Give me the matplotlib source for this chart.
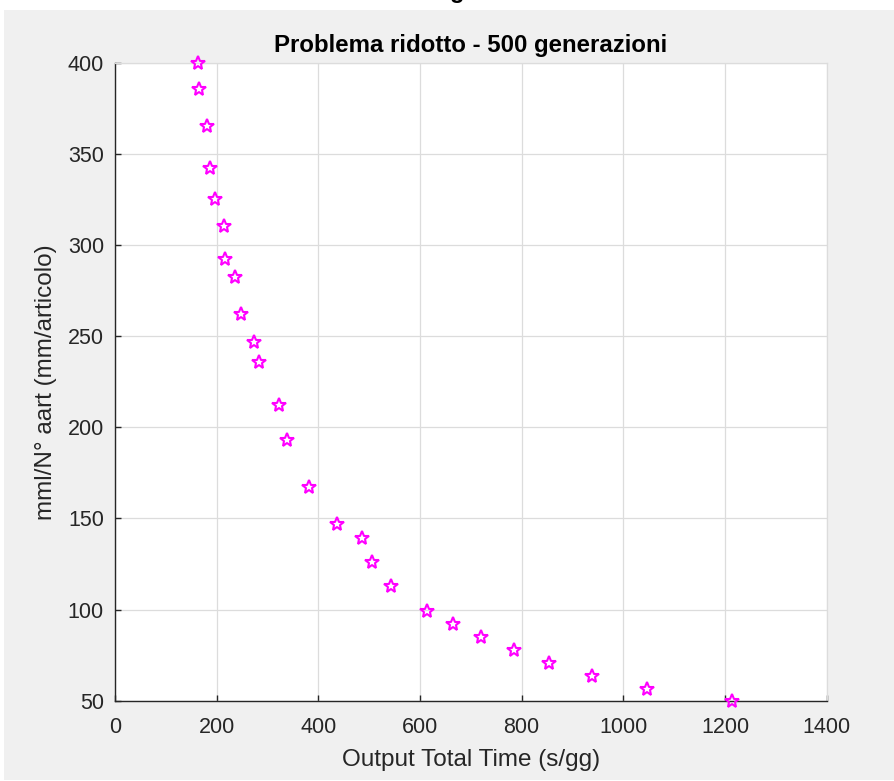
import matplotlib
matplotlib.use("Agg")
import matplotlib.pyplot as plt
from matplotlib.patches import Rectangle

# Pareto front: output total time vs. mml per article
output_time = [164, 166, 180, 186, 197, 214, 216, 237, 248, 273, 283,
               322, 338, 382, 437, 485, 506, 542, 614, 665, 719, 784,
               854, 938, 1046, 1213]
mml_per_art = [400, 385.5, 365.5, 342.5, 325.5, 310.5, 292.5, 282.5, 262, 247, 236,
               212, 193, 167, 147, 139, 126, 113, 99, 92, 85, 78,
               70.5, 63.5, 56.5, 50]

x_ticks = [0, 200, 400, 600, 800, 1000, 1200, 1400]
y_ticks = [50, 100, 150, 200, 250, 300, 350, 400]

W, H = 894, 781
plt.rcParams['font.family'] = ['Liberation Sans', 'DejaVu Sans']

fig = plt.figure(figsize=(W / 100, H / 100), dpi=100, facecolor='white')

# grey window background with a thin white margin
fig.patches.append(Rectangle((4 / W, 1 / H), 1 - 4 / W, 1 - 11 / H,
                             transform=fig.transFigure, facecolor='#f0f0f0',
                             edgecolor='none', zorder=-10))

left, right, top, bottom = 115, 826.7, 62.7, 700.7
ax = fig.add_axes([left / W, 1 - bottom / H, (right - left) / W, (bottom - top) / H])
ax.set_facecolor('white')

ax.plot(output_time, mml_per_art, linestyle='none', marker='*', markersize=10.5,
        markerfacecolor='none', markeredgecolor='#ff00ff', markeredgewidth=1.5,
        clip_on=False, zorder=5)

ax.set_xlim(0, 1400)
ax.set_ylim(50, 400)
ax.set_xticks(x_ticks)
ax.set_yticks(y_ticks)

ax.grid(True, color='#dcdcdc', linewidth=0.9)
ax.set_axisbelow(True)

dark = '#262626'
for side in ('left', 'bottom'):
    ax.spines[side].set_color(dark)
    ax.spines[side].set_linewidth(1.0)
for side in ('top', 'right'):
    ax.spines[side].set_color('#dcdcdc')
    ax.spines[side].set_linewidth(0.9)

ax.tick_params(axis='both', direction='in', length=4, width=1.0, color=dark,
               labelcolor=dark, labelsize=15.5)
ax.tick_params(axis='x', pad=12)
ax.tick_params(axis='y', pad=8)

ax.set_xlabel('Output Total Time (s/gg)', fontsize=17.5, color=dark, labelpad=8)
ax.set_ylabel('mml/N° aart (mm/articolo)', fontsize=17.5, color=dark, labelpad=8)
ax.set_title('Problema ridotto - 500 generazioni', fontsize=17.3, fontweight='bold',
             color='black', pad=8)

# descender of a caption sitting above the top edge
fig.text(457 / W, 1 + 2 / H, 'g', ha='center', va='baseline', fontsize=17,
         fontweight='bold', color='black')

fig.savefig('out.png', dpi=100, facecolor='white')
